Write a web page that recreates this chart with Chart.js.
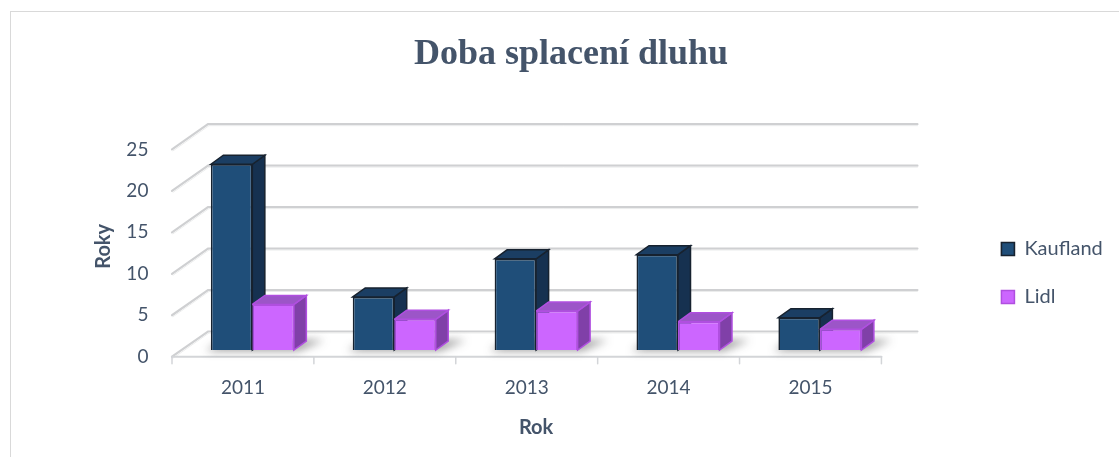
<!DOCTYPE html>
<html>
<head>
<meta charset="utf-8">
<script src="https://cdn.jsdelivr.net/npm/chart.js@4"></script>
<style>
    html, body { margin: 0; padding: 0; background: #fff; }
    #wrap { position: relative; width: 1119px; height: 457px; overflow: hidden; }
    #frame { position: absolute; left: 10px; top: 11px; width: 1200px; height: 500px; border: 1px solid #d9d9d9; box-sizing: border-box; }
    canvas { position: absolute; left: 0; top: 0; }
</style>
</head>
<body>
<div id="wrap">
    <div id="frame"></div>
    <canvas id="chart" width="1119" height="457"></canvas>
</div>
<script>
const years = ['2011', '2012', '2013', '2014', '2015'];
const kaufland = [22.4, 6.4, 11.0, 11.5, 3.9];
const lidl = [5.5, 3.7, 4.7, 3.4, 2.5];
const yTicks = [0, 5, 10, 15, 20, 25];

const TEXT = '#44546A';
// depth of the plot box (floor front edge -> back wall) and of each bar
const FRONT = { x: -9.4, y: 6.7 };
const BACK = { x: 26.6, y: -18.5 };
const BAR_DEPTH = { x: 12.5, y: -9 };

const faceColors = [
    { top: '#1B3E63', side: '#163150', line: '#17222f' },
    { top: '#9C55C8', side: '#8040A8', line: '#B04FE0' }
];

function poly(ctx, pts, fill, stroke) {
    ctx.beginPath();
    ctx.moveTo(pts[0][0], pts[0][1]);
    for (let i = 1; i < pts.length; i++) ctx.lineTo(pts[i][0], pts[i][1]);
    ctx.closePath();
    if (fill) { ctx.fillStyle = fill; ctx.fill(); }
    if (stroke) { ctx.strokeStyle = stroke; ctx.lineWidth = 1.5; ctx.stroke(); }
}

// walls, floor, shadows and the hidden faces of the bars
const box3d = {
    id: 'box3d',
    beforeDatasetsDraw(chart) {
        const { ctx, scales: { x, y } } = chart;
        ctx.save();
        // back wall grid + left wall diagonals
        yTicks.forEach(v => {
            const py = y.getPixelForValue(v);
            ctx.lineCap = 'round';
            ctx.strokeStyle = '#cfd0d2';
            ctx.lineWidth = 2.2;
            ctx.beginPath();
            ctx.moveTo(x.left + FRONT.x, py + FRONT.y);
            ctx.lineTo(x.left + BACK.x, py + BACK.y);
            ctx.lineTo(x.right + BACK.x, py + BACK.y);
            ctx.stroke();
            ctx.strokeStyle = '#eceded';
            ctx.lineWidth = 1;
            ctx.beginPath();
            ctx.moveTo(x.left + FRONT.x + 1, py + FRONT.y + 1.5);
            ctx.lineTo(x.left + BACK.x + 1, py + BACK.y + 1.5);
            ctx.lineTo(x.right + BACK.x, py + BACK.y + 1.5);
            ctx.stroke();
        });
        // floor front edge with category ticks
        const fy = y.getPixelForValue(0) + FRONT.y;
        ctx.strokeStyle = '#d3d5d8';
        ctx.lineWidth = 2;
        ctx.beginPath();
        ctx.moveTo(x.left + FRONT.x, fy);
        ctx.lineTo(x.right + FRONT.x, fy);
        ctx.stroke();
        ctx.lineWidth = 1.5;
        for (let i = 0; i <= years.length; i++) {
            const px = x.left + FRONT.x + i * (x.right - x.left) / years.length;
            ctx.beginPath();
            ctx.moveTo(px, fy);
            ctx.lineTo(px, fy + 7);
            ctx.stroke();
        }
        // soft shadows on the floor
        const m0 = chart.getDatasetMeta(0).data;
        const m1 = chart.getDatasetMeta(1).data;
        ctx.filter = 'blur(4px)';
        m0.forEach((k, i) => {
            const l = m1[i];
            const left = k.x - k.width / 2, right = l.x + l.width / 2, base = k.base;
            poly(ctx, [[left - 5, base + 1], [right + 4, base + 1], [right + BAR_DEPTH.x + 18, base + BAR_DEPTH.y - 1], [left + BAR_DEPTH.x, base + BAR_DEPTH.y - 1]], 'rgba(40,40,40,0.45)');
        });
        ctx.filter = 'none';
        // side and top faces, drawn before the fronts so Lidl covers Kaufland's side
        [0, 1].forEach(d => {
            chart.getDatasetMeta(d).data.forEach(b => {
                const left = b.x - b.width / 2, right = b.x + b.width / 2;
                const c = faceColors[d];
                poly(ctx, [[right, b.y], [right + BAR_DEPTH.x, b.y + BAR_DEPTH.y], [right + BAR_DEPTH.x, b.base + BAR_DEPTH.y], [right, b.base]], c.side, c.line);
                poly(ctx, [[left, b.y], [left + BAR_DEPTH.x, b.y + BAR_DEPTH.y], [right + BAR_DEPTH.x, b.y + BAR_DEPTH.y], [right, b.y]], c.top, c.line);
            });
        });
        ctx.restore();
    }
};

new Chart(document.getElementById('chart'), {
    type: 'bar',
    data: {
        labels: years,
        datasets: [
            { label: 'Kaufland', data: kaufland, backgroundColor: '#1F4E79', borderColor: '#17222f', borderWidth: 1.6 },
            { label: 'Lidl', data: lidl, backgroundColor: '#CC66FF', borderColor: '#B04FE0', borderWidth: 1.5 }
        ]
    },
    options: {
        responsive: false,
        animation: false,
        events: [],
        layout: { padding: { left: 29.2, right: 6.2, top: 0, bottom: 0 } },
        datasets: { bar: { categoryPercentage: 0.585, barPercentage: 1 } },
        scales: {
            x: {
                grid: { display: false },
                border: { display: false },
                afterFit: s => { s.height = 107; },
                ticks: { color: TEXT, padding: 18, labelOffset: FRONT.x, font: { family: 'Lato', size: 19 } },
                title: { display: true, text: 'Rok', color: TEXT, padding: { top: 0, bottom: 17 }, font: { family: 'Lato', size: 20, weight: 'bold' } }
            },
            y: {
                min: 0,
                max: 25,
                grid: { display: false, drawTicks: false },
                border: { display: false },
                afterFit: s => { s.width = 152.2; },
                ticks: { color: TEXT, stepSize: 5, padding: 33, labelOffset: FRONT.y, font: { family: 'Lato', size: 19 } },
                title: { display: true, text: 'Roky', color: TEXT, padding: { top: 62, bottom: 0 }, font: { family: 'Lato', size: 20, weight: 'bold' } }
            },
            // empty spacer between the plot and the legend
            gap: {
                position: 'right',
                display: true,
                grid: { display: false, drawTicks: false },
                border: { display: false },
                ticks: { display: false },
                afterFit: s => { s.width = 82.6; }
            }
        },
        plugins: {
            title: {
                display: true,
                text: 'Doba splacení dluhu',
                color: TEXT,
                font: { family: 'Liberation Serif', size: 36, weight: 'bold', lineHeight: 1.2 },
                padding: { top: 33, bottom: 66.5 }
            },
            legend: {
                position: 'right',
                align: 'start',
                title: { display: true, text: ' ', padding: { top: 189.4, bottom: 0 }, font: { size: 18 } },
                labels: {
                    color: TEXT,
                    boxWidth: 13,
                    boxHeight: 13,
                    padding: 28,
                    font: { family: 'Lato', size: 20 }
                }
            },
            tooltip: { enabled: false }
        }
    },
    plugins: [box3d]
});
</script>
</body>
</html>
